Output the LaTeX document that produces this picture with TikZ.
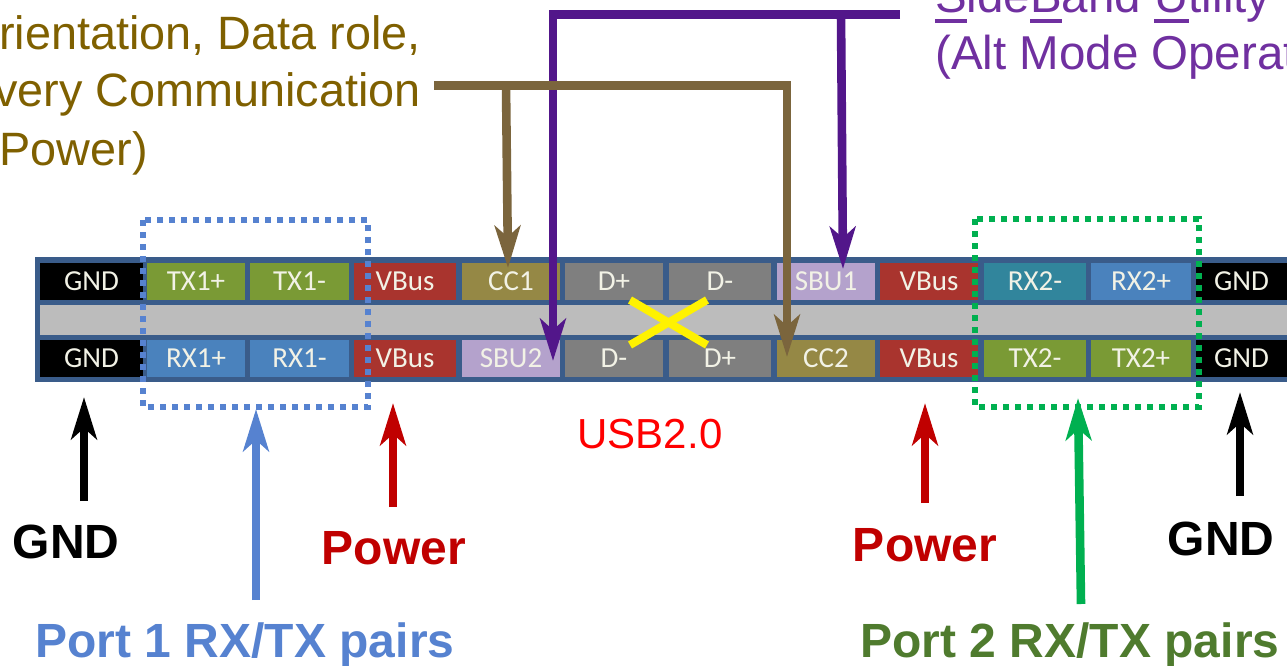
\documentclass[tikz,border=0pt]{standalone}
\usepackage{fontspec}
\setmainfont{Liberation Sans}
\newfontfamily\pinfont{Carlito}
\usetikzlibrary{arrows.meta}
\definecolor{cbrown}{HTML}{7B653D}
\definecolor{cpurple}{HTML}{52168A}
\definecolor{tbrown}{HTML}{7F6000}
\definecolor{tpurple}{HTML}{7030A0}
\definecolor{cblue}{HTML}{5682D0}
\definecolor{cgreen}{HTML}{00B050}
\definecolor{cred}{HTML}{C00000}
\definecolor{pgreen}{HTML}{7A9A35}
\definecolor{pblue}{HTML}{4A82BD}
\definecolor{pteal}{HTML}{31859C}
\definecolor{pred}{HTML}{A9342E}
\definecolor{pcc}{HTML}{958845}
\definecolor{psbu}{HTML}{B4A2CC}
\definecolor{pgray}{HTML}{7F7F7F}
\definecolor{frame}{HTML}{3A5C8A}
\definecolor{midgray}{HTML}{BCBCBC}
\definecolor{ptext}{HTML}{F2F2E6}
\definecolor{tportg}{HTML}{4F7B2E}
\newcommand\uletter[1]{\setbox0\hbox{#1}\rlap{\rule[-9.7pt]{\wd0}{4pt}}\box0}
\tikzset{
  pin/.style={inner sep=0pt,minimum height=37pt,text=ptext,font=\pinfont\fontsize{29}{29}\selectfont},
  txt/.style={inner sep=0pt,font=\fontsize{46.8}{46.8}\selectfont},
  txtb/.style={inner sep=0pt,font=\fontsize{47.5}{47.5}\selectfont},
  boldtxt/.style={inner sep=0pt,font=\fontsize{48}{48}\selectfont\bfseries},
  arr/.style={line width=8.6pt,-{Stealth[length=42pt,width=25.5pt,inset=11pt]}},
  feed/.style={line width=8.6pt},
  dotbox/.style={line width=6pt,dash pattern=on 6pt off 6pt}
}
\begin{document}
\begin{tikzpicture}[x=1pt,y=-1pt]
\useasboundingbox (0,0) rectangle (1287,666);
\clip (0,0) rectangle (1287,666);
% connector bar
\fill[frame] (35,257) rectangle (1287,382);
\fill[midgray] (40,305) rectangle (1287,335);
% top row
\node[pin,minimum width=103pt,fill=black] (gndA) at (91.5,281) {GND};
\node[pin,minimum width=98pt,fill=pgreen] (txAp) at (196,281) {TX1+};
\node[pin,minimum width=99pt,fill=pgreen] (txAm) at (299.5,281) {TX1-};
\node[pin,minimum width=102pt,fill=pred] (vbusA) at (405,281) {VBus};
\node[pin,minimum width=98pt,fill=pcc] (ccA) at (511,281) {CC1};
\node[pin,minimum width=98pt,fill=pgray] (dpA) at (614,281) {D+};
\node[pin,minimum width=102pt,fill=pgray] (dmA) at (720,281) {D-};
\node[pin,minimum width=98pt,fill=psbu] (sbuA) at (826,281) {SBU1};
\node[pin,minimum width=98pt,fill=pred] (vbusB) at (929,281) {VBus};
\node[pin,minimum width=102pt,fill=pteal] (rxBm) at (1035,281) {RX2-};
\node[pin,minimum width=100pt,fill=pblue] (rxBp) at (1141,281) {RX2+};
\node[pin,minimum width=91pt,fill=black] (gndB) at (1241.5,281) {GND};
% bottom row
\node[pin,minimum width=103pt,fill=black] (gndC) at (91.5,358.5) {GND};
\node[pin,minimum width=98pt,fill=pblue] (rxAp) at (196,358.5) {RX1+};
\node[pin,minimum width=99pt,fill=pblue] (rxAm) at (299.5,358.5) {RX1-};
\node[pin,minimum width=102pt,fill=pred] (vbusC) at (405,358.5) {VBus};
\node[pin,minimum width=98pt,fill=psbu] (sbuB) at (511,358.5) {SBU2};
\node[pin,minimum width=98pt,fill=pgray] (dmB) at (614,358.5) {D-};
\node[pin,minimum width=102pt,fill=pgray] (dpB) at (720,358.5) {D+};
\node[pin,minimum width=98pt,fill=pcc] (ccB) at (826,358.5) {CC2};
\node[pin,minimum width=98pt,fill=pred] (vbusD) at (929,358.5) {VBus};
\node[pin,minimum width=102pt,fill=pgreen] (txBm) at (1035,358.5) {TX2-};
\node[pin,minimum width=100pt,fill=pgreen] (txBp) at (1141,358.5) {TX2+};
\node[pin,minimum width=91pt,fill=black] (gndD) at (1241.5,358.5) {GND};
% dotted groups
\draw[dotbox,cblue] (143,220) rectangle (368,407);
\draw[dotbox,cgreen] (975,219) rectangle (1199,407);
% yellow cross
\coordinate (xa) at (630,345); \coordinate (xb) at (707,300);
\coordinate (xc) at (630,300); \coordinate (xd) at (707,345);
\draw[yellow,line width=8pt] (xa) -- (xb);
\draw[yellow,line width=8pt] (xc) -- (xd);
% texts
\node[txt,text=tbrown,anchor=base east] (ccl1) at (421,50) {rientation, Data role,};
\node[txt,text=tbrown,anchor=base east] (ccl2) at (421,107) {very Communication};
\node[txt,text=tbrown,anchor=base east] (ccl3) at (148,165) {Power)};
\node[txtb,text=tpurple,anchor=base west] (sbul1) at (935,13) {\uletter{S}ide\uletter{B}and \uletter{U}tility};
\node[txtb,text=tpurple,anchor=base west] (sbul2) at (935,70) {(Alt Mode Operat};
\node[inner sep=0pt,text=red,anchor=base,font=\fontsize{42}{42}\selectfont] (usb) at (650,448) {USB2.0};
\node[boldtxt,anchor=base] (lgndA) at (66,558) {GND};
\node[boldtxt,anchor=base,text=cred] (lpowA) at (394,564) {Power};
\node[boldtxt,anchor=base,text=cred] (lpowB) at (925,561) {Power};
\node[boldtxt,anchor=base] (lgndB) at (1221,555) {GND};
\node[boldtxt,anchor=base,text=cblue] (lportA) at (245,657) {Port 1 RX/TX pairs};
\node[boldtxt,anchor=base,text=tportg] (lportB) at (1070,657) {Port 2 RX/TX pairs};
% purple connectors
\coordinate (ps) at (900,14.5);
\coordinate (pj) at (841,14.5);
\coordinate (pc) at (553,14.5);
\coordinate (pe1) at (843,269);
\coordinate (pe2) at (553,361);
\draw[feed,cpurple,shorten >=-4.3pt] (ps) -- (pc);
\draw[arr,cpurple] (pj) -- (pe1);
\draw[arr,cpurple] (pc) -- (pe2);
% brown connectors
\coordinate (bs) at (434,85.5);
\coordinate (bj) at (506,85.5);
\coordinate (bc) at (787,85.5);
\coordinate (be1) at (508,268);
\coordinate (be2) at (787,357);
\draw[feed,cbrown,shorten >=-4.3pt] (bs) -- (bc);
\draw[arr,cbrown] (bj) -- (be1);
\draw[arr,cbrown] (bc) -- (be2);
% bottom arrows
\coordinate (a1s) at (84,501); \coordinate (a1e) at (84,397);
\coordinate (a2s) at (393,507); \coordinate (a2e) at (393,403);
\coordinate (a3s) at (925,503); \coordinate (a3e) at (925,403);
\coordinate (a4s) at (1240,496); \coordinate (a4e) at (1240,392);
\coordinate (a5s) at (256,600); \coordinate (a5e) at (256,409);
\coordinate (a6s) at (1081,604); \coordinate (a6e) at (1078,398);
\draw[arr,black] (a1s) -- (a1e);
\draw[arr,cred] (a2s) -- (a2e);
\draw[arr,cred] (a3s) -- (a3e);
\draw[arr,black] (a4s) -- (a4e);
\draw[arr,cblue] (a5s) -- (a5e);
\draw[arr,cgreen] (a6s) -- (a6e);
\end{tikzpicture}
\end{document}
